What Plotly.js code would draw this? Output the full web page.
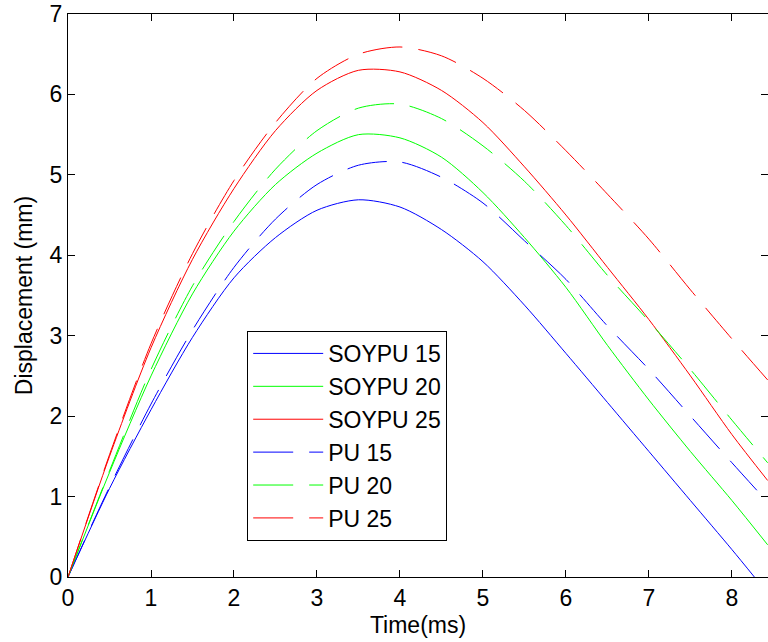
<!DOCTYPE html>
<html>
<head>
<meta charset="utf-8">
<script src="https://cdn.plot.ly/plotly-3.0.1.min.js"></script>
<style>html,body{margin:0;padding:0;background:#fff;}#chart{width:768px;height:642px;}</style>
</head>
<body>
<div id="chart"></div>
<script>
// Time (ms)
const timeSoy15 = [0, 0.5, 1, 1.5, 2, 2.5, 3, 3.5, 4, 4.5, 5, 5.5, 6, 6.5, 7, 7.5, 8, 8.27];
const timeFull  = [0, 0.5, 1, 1.5, 2, 2.5, 3, 3.5, 4, 4.5, 5, 5.5, 6, 6.5, 7, 7.5, 8, 8.43];

// Displacement (mm)
const soypu15 = [0, 1.10, 2.08, 2.98, 3.72, 4.22, 4.56, 4.69, 4.60, 4.32, 3.92, 3.38, 2.78, 2.17, 1.56, 0.95, 0.34, 0];
const soypu20 = [0, 1.30, 2.50, 3.52, 4.30, 4.88, 5.27, 5.50, 5.46, 5.22, 4.78, 4.22, 3.60, 2.88, 2.20, 1.56, 0.95, 0.40];
const soypu25 = [0, 1.50, 2.85, 3.95, 4.83, 5.55, 6.05, 6.30, 6.28, 6.05, 5.65, 5.10, 4.50, 3.85, 3.20, 2.50, 1.77, 1.20];
const pu15    = [0, 1.12, 2.15, 3.07, 3.85, 4.45, 4.88, 5.12, 5.16, 4.97, 4.65, 4.18, 3.70, 3.12, 2.58, 2.00, 1.42, 0.93];
const pu20    = [0, 1.32, 2.58, 3.62, 4.42, 5.07, 5.55, 5.83, 5.88, 5.70, 5.36, 4.92, 4.37, 3.75, 3.18, 2.58, 1.95, 1.42];
const pu25    = [0, 1.52, 2.90, 4.02, 4.93, 5.65, 6.20, 6.50, 6.59, 6.48, 6.20, 5.80, 5.30, 4.76, 4.20, 3.57, 2.96, 2.45];

const seriesNames = ['SOYPU 15', 'SOYPU 20', 'SOYPU 25', 'PU 15', 'PU 20', 'PU 25'];
const xTicks = [0, 1, 2, 3, 4, 5, 6, 7, 8];
const yTicks = [0, 1, 2, 3, 4, 5, 6, 7];

const BLUE = '#0000ff', GREEN = '#00ff00', RED = '#ff0000';
const DASH = '40px,16px';
const FONT = 'Arial, "Liberation Sans", sans-serif';

function tr(x, y, name, color, dash) {
  return {
    x: x, y: y, name: name, type: 'scatter', mode: 'lines',
    line: {color: color, width: 1, dash: dash, shape: 'spline', smoothing: 0.8}
  };
}

const data = [
  tr(timeSoy15, soypu15, seriesNames[0], BLUE, 'solid'),
  tr(timeFull, soypu20, seriesNames[1], GREEN, 'solid'),
  tr(timeFull, soypu25, seriesNames[2], RED, 'solid'),
  tr(timeFull, pu15, seriesNames[3], BLUE, DASH),
  tr(timeFull, pu20, seriesNames[4], GREEN, DASH),
  tr(timeFull, pu25, seriesNames[5], RED, DASH)
];

const layout = {
  width: 768, height: 642,
  margin: {l: 68, r: 0, t: 14, b: 65},
  paper_bgcolor: '#fff', plot_bgcolor: '#fff',
  font: {family: FONT, size: 23, color: '#000'},
  showlegend: true,
  legend: {
    x: 0.256, y: 0.437, xanchor: 'left', yanchor: 'top',
    bgcolor: '#fff', bordercolor: '#000', borderwidth: 1,
    font: {family: FONT, size: 23, color: '#000'},
    itemwidth: 70, tracegroupgap: 0
  },
  xaxis: {
    range: [0, 8.434], tickvals: xTicks, ticktext: xTicks.map(String),
    ticks: 'inside', ticklen: 7, tickcolor: '#000', tickwidth: 1,
    showline: true, linecolor: '#000', linewidth: 1, mirror: 'ticks',
    showgrid: false, zeroline: false,
    tickfont: {family: FONT, size: 23, color: '#000'},
    title: {text: 'Time(ms)', font: {family: FONT, size: 23, color: '#000'}, standoff: 7}
  },
  yaxis: {
    range: [0, 7], tickvals: yTicks, ticktext: yTicks.map(String),
    ticks: 'inside', ticklen: 7, tickcolor: '#000', tickwidth: 1,
    showline: true, linecolor: '#000', linewidth: 1, mirror: 'ticks',
    showgrid: false, zeroline: false,
    tickfont: {family: FONT, size: 23, color: '#000'},
    title: {text: 'Displacement (mm)', font: {family: FONT, size: 23, color: '#000'}, standoff: 10}
  }
};

Plotly.newPlot('chart', data, layout, {staticPlot: true, displayModeBar: false});
</script>
</body>
</html>
